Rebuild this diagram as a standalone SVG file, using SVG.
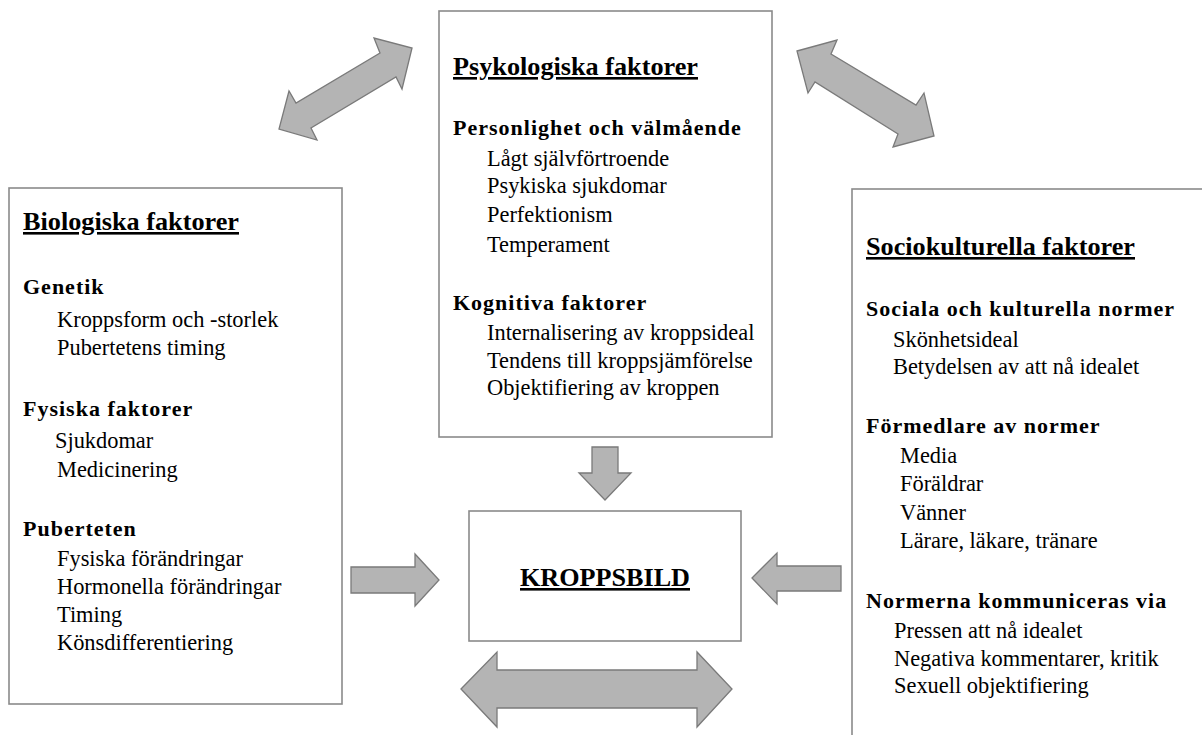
<svg xmlns="http://www.w3.org/2000/svg" width="1202" height="735" viewBox="0 0 1202 735">
<style>
.box{fill:#fff;stroke:#8a8a8a;stroke-width:1.6}
.arr{fill:#b4b4b4;stroke:#7a7a7a;stroke-width:1.3;stroke-linejoin:miter}
text{font-family:'Liberation Serif','DejaVu Serif',serif;fill:#000}
.t{font-size:26px;font-weight:bold;text-decoration:underline}
.h{font-size:22px;font-weight:bold;letter-spacing:1px}
.i{font-size:22.4px}
</style>
<rect width="1202" height="735" fill="#fff"/>
<g id="connectors">
<polygon class="arr" points="412,48 402,89 396,77 311,128 317,140 279,129 289,91 296,103 380,53 374,38"/>
<polygon class="arr" points="797,51 837,40 831,54 916,105 924,93 934,136 893,147 898,134 815,82 808,93"/>
<polygon class="arr" points="592,447 618,447 618,473 631,473 605,500 579,473 592,473"/>
<polygon class="arr" points="351,567 415,567 415,554 439,580 415,606 415,593 351,593"/>
<polygon class="arr" points="752,578 777,553 777,566 841,566 841,591 777,591 777,604"/>
<polygon class="arr" points="461,689 497,652 497,670 697,670 697,652 732,689 697,727 697,708 497,708 497,727"/>
</g>
<g id="biologiska">
<rect class="box" x="9" y="188" width="333" height="516"/>
<text class="t" x="23" y="230" textLength="216" lengthAdjust="spacingAndGlyphs">Biologiska faktorer</text>
<text class="h" x="23" y="294">Genetik</text>
<text class="i" x="57" y="327">Kroppsform och -storlek</text>
<text class="i" x="57" y="355">Pubertetens timing</text>
<text class="h" x="23" y="416">Fysiska faktorer</text>
<text class="i" x="55" y="448">Sjukdomar</text>
<text class="i" x="57" y="477">Medicinering</text>
<text class="h" x="23" y="536">Puberteten</text>
<text class="i" x="57" y="566">Fysiska förändringar</text>
<text class="i" x="57" y="594">Hormonella förändringar</text>
<text class="i" x="57" y="622">Timing</text>
<text class="i" x="57" y="650">Könsdifferentiering</text>
</g>
<g id="psykologiska">
<rect class="box" x="439" y="11" width="333" height="426"/>
<text class="t" x="453" y="75" textLength="245" lengthAdjust="spacingAndGlyphs">Psykologiska faktorer</text>
<text class="h" x="453" y="135">Personlighet och välmående</text>
<text class="i" x="487" y="166">Lågt självförtroende</text>
<text class="i" x="487" y="193">Psykiska sjukdomar</text>
<text class="i" x="487" y="222">Perfektionism</text>
<text class="i" x="487" y="252">Temperament</text>
<text class="h" x="453" y="310">Kognitiva faktorer</text>
<text class="i" x="487" y="340">Internalisering av kroppsideal</text>
<text class="i" x="487" y="368">Tendens till kroppsjämförelse</text>
<text class="i" x="487" y="395">Objektifiering av kroppen</text>
</g>
<g id="sociokulturella">
<rect class="box" x="852" y="189" width="360" height="560"/>
<text class="t" x="866" y="255" textLength="269" lengthAdjust="spacingAndGlyphs">Sociokulturella faktorer</text>
<text class="h" x="866" y="316">Sociala och kulturella normer</text>
<text class="i" x="893" y="347">Skönhetsideal</text>
<text class="i" x="893" y="374">Betydelsen av att nå idealet</text>
<text class="h" x="866" y="433">Förmedlare av normer</text>
<text class="i" x="900" y="463">Media</text>
<text class="i" x="900" y="491">Föräldrar</text>
<text class="i" x="900" y="520">Vänner</text>
<text class="i" x="900" y="548">Lärare, läkare, tränare</text>
<text class="h" x="866" y="608">Normerna kommuniceras via</text>
<text class="i" x="894" y="638">Pressen att nå idealet</text>
<text class="i" x="894" y="666">Negativa kommentarer, kritik</text>
<text class="i" x="894" y="693">Sexuell objektifiering</text>
</g>
<g id="kroppsbild">
<rect class="box" x="469" y="511" width="272" height="130"/>
<text class="t" x="520" y="586" textLength="170" lengthAdjust="spacingAndGlyphs">KROPPSBILD</text>
</g>
</svg>
